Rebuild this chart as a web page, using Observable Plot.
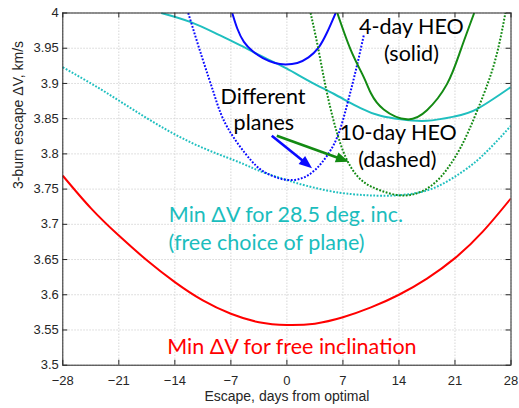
<!DOCTYPE html>
<html>
<head>
<meta charset="utf-8">
<script src="https://cdn.jsdelivr.net/npm/d3@7"></script>
<script src="https://cdn.jsdelivr.net/npm/@observablehq/plot@0.6"></script>
<style>
  html, body { margin: 0; padding: 0; background: #fff; }
</style>
</head>
<body>
<div id="chart"></div>
<script>
// ---- axis ticks ----
const xTicks = [-28, -21, -14, -7, 0, 7, 14, 21, 28];
const yTicks = [3.5, 3.55, 3.6, 3.65, 3.7, 3.75, 3.8, 3.85, 3.9, 3.95, 4];

// ---- series (x: days from optimal, y: km/s) ----
const freeIncl = [[-28,3.769],[-24.5,3.723],[-21,3.684],[-17.5,3.649],[-14,3.618],[-10.5,3.592],[-7,3.573],[-3.5,3.561],[0,3.557],[3.5,3.559],[7,3.568],[10.5,3.582],[14,3.600],[17.5,3.623],[21,3.652],[24.5,3.690],[28,3.737]];
const inc285Solid = [[-15.7,4.0],[-12,3.987],[-8.7,3.970],[-5.8,3.954],[-2.5,3.935],[0,3.921],[3,3.902],[5.9,3.885],[9.2,3.865],[11.7,3.854],[14.2,3.849],[17.5,3.847],[20.9,3.853],[23.8,3.864],[28,3.895]];
const inc285Dashed = [[-28,3.923],[-23.3,3.892],[-19.1,3.862],[-15,3.834],[-10.8,3.810],[-6.6,3.791],[-4.5,3.781],[-2.5,3.772],[0,3.763],[1.7,3.757],[5,3.748],[8,3.743],[10.5,3.741],[13.5,3.741],[17.5,3.748],[20.9,3.767],[24.2,3.795],[28,3.840]];
const planeSolid = [[-6.83,4.0],[-6.2,3.978],[-5.37,3.959],[-4.3,3.946],[-3,3.936],[-1.5,3.929],[-0.2,3.927],[1.3,3.929],[2.7,3.937],[3.9,3.950],[5,3.972],[6.09,4.0]];
const planeDashed = [[-12.33,4.0],[-10.6,3.937],[-9.1,3.885],[-7.45,3.838],[-4.5,3.791],[-2.45,3.772],[0,3.763],[2.55,3.769],[4.6,3.791],[6.3,3.824],[7.55,3.871],[8.6,3.918],[9.6,3.968]];
const heoSolid = [[6.3,4.0],[8,3.947],[9.6,3.909],[10.5,3.886],[12.1,3.863],[15,3.849],[17.5,3.862],[20,3.899],[21.7,3.947],[23.4,4.0]];
const heoDashed = [[2.96,4.0],[3.8,3.956],[4.6,3.909],[5.5,3.862],[6.7,3.814],[8,3.781],[9.6,3.760],[11.7,3.748],[14.2,3.741],[16.7,3.746],[19.2,3.767],[21.7,3.809],[23.8,3.862],[25.9,3.928],[27.3,4.0]];

// ---- annotations ----
const labelText = ["4-day HEO", "(solid)", "Different", "planes", "10-day HEO", "(dashed)", "Min ΔV for 28.5 deg. inc.", "(free choice of plane)", "Min ΔV for free inclination"];
const labelX = [15.56, 15.56, -2.98, -2.88, 13.9, 13.8, -14.75, -14.79, -14.95];
const labelY = [3.980, 3.941, 3.881, 3.843, 3.829, 3.791, 3.713, 3.673, 3.526];
const labelColor = ["#000", "#000", "#000", "#000", "#000", "#000", "#1bbdbd", "#1bbdbd", "#ff0000"];
const labelAnchor = ["middle", "middle", "middle", "middle", "middle", "middle", "start", "start", "start"];
const arrowFrom = [[-1.83, 3.825], [-1.2, 3.825]];
const arrowTo = [[3.2, 3.779], [7.8, 3.788]];
const arrowColor = ["#0a0aff", "#138a13"];

const RED = "#ff0000", CYAN = "#1fbfbf", BLUE = "#0a0aff", GREEN = "#138a13";

const W = 519, H = 408;
const mL = 62.3, mR = 8.5, mT = 12.5, mB = 43.3;
const plotW = W - mL - mR, plotH = H - mT - mB;

const labels = labelText.map((t, i) => ({t, x: labelX[i], y: labelY[i], c: labelColor[i], a: labelAnchor[i]}));
const arrows = arrowFrom.map((f, i) => ({x1: f[0], y1: f[1], x2: arrowTo[i][0], y2: arrowTo[i][1], c: arrowColor[i]}));

function arrowMark(index, scales) {
  const g = d3.create("svg:g");
  for (const a of arrows) {
    const x1 = scales.x(a.x1), y1 = scales.y(a.y1), x2 = scales.x(a.x2), y2 = scales.y(a.y2);
    const dx = x2 - x1, dy = y2 - y1, L = Math.hypot(dx, dy), ux = dx / L, uy = dy / L;
    const hl = 13, hw = 5.2;
    const bx = x2 - ux * hl, by = y2 - uy * hl;
    g.append("line").attr("x1", x1).attr("y1", y1).attr("x2", bx + ux * 2).attr("y2", by + uy * 2)
      .attr("stroke", a.c).attr("stroke-width", 2.6);
    g.append("path").attr("d", `M${x2},${y2}L${bx - uy * hw},${by + ux * hw}L${bx + uy * hw},${by - ux * hw}Z`)
      .attr("fill", a.c);
  }
  return g.node();
}

const line = (data, color, dashed) => Plot.line(data, {
  x: d => d[0], y: d => d[1], stroke: color, strokeWidth: 2,
  strokeDasharray: dashed ? "1.8,1.6" : null, strokeLinecap: "butt", strokeLinejoin: "round",
  curve: "natural", clip: true
});

const textOpts = {x: "x", y: "y", text: "t", fill: "c", fontFamily: "Lato, 'Open Sans', sans-serif", fontSize: 21.5, lineAnchor: "middle"};

const chart = Plot.plot({
  width: W, height: H,
  marginLeft: mL, marginRight: mR, marginTop: mT, marginBottom: mB,
  style: {fontFamily: "'Liberation Sans', Arial, sans-serif", fontSize: "13px", color: "#262626", background: "#fff"},
  x: {domain: [-28, 28], ticks: xTicks, tickSize: 0, tickPadding: 11, label: null},
  y: {domain: [3.5, 4], ticks: yTicks, tickSize: 0, tickPadding: 4, label: null, tickFormat: d => String(+d.toFixed(2))},
  marks: [
    Plot.ruleX(xTicks, {x: d => d, stroke: "#d6d6d6", strokeDasharray: "1.5,1.5"}),
    Plot.ruleY(yTicks, {y: d => d, stroke: "#d6d6d6", strokeDasharray: "1.5,1.5"}),
    line(freeIncl, RED, false),
    line(inc285Dashed, CYAN, true),
    line(inc285Solid, CYAN, false),
    line(planeDashed, BLUE, true),
    line(planeSolid, BLUE, false),
    line(heoDashed, GREEN, true),
    line(heoSolid, GREEN, false),
    arrowMark,
    Plot.text(labels.filter(d => d.a === "middle"), {...textOpts, textAnchor: "middle"}),
    Plot.text(labels.filter(d => d.a === "start"), {...textOpts, textAnchor: "start"}),
    Plot.tickX(xTicks, {x: d => d, insetTop: plotH - 5, stroke: "#262626"}),
    Plot.tickX(xTicks, {x: d => d, insetBottom: plotH - 5, stroke: "#262626"}),
    Plot.tickY(yTicks, {y: d => d, insetRight: plotW - 5, stroke: "#262626"}),
    Plot.tickY(yTicks, {y: d => d, insetLeft: plotW - 5, stroke: "#262626"}),
    Plot.frame({stroke: "#262626"}),
    Plot.text(["Escape, days from optimal"], {frameAnchor: "bottom", dy: 31.8, fontSize: 14, fill: "#262626", lineAnchor: "middle"}),
    Plot.text(["3-burn escape ΔV, km/s"], {frameAnchor: "left", dx: -44.1, rotate: -90, fontSize: 14, fill: "#262626", lineAnchor: "middle"})
  ]
});
document.getElementById("chart").appendChild(chart);
</script>
</body>
</html>
